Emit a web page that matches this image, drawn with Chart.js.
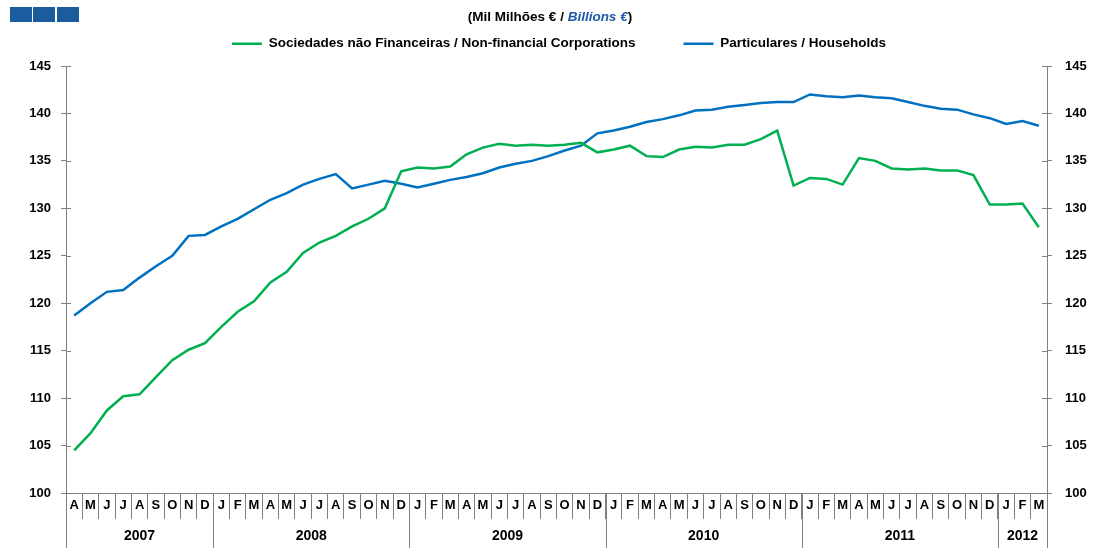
<!DOCTYPE html>
<html>
<head>
<meta charset="utf-8">
<script src="https://cdn.jsdelivr.net/npm/chart.js@4/dist/chart.umd.min.js"></script>
<style>
    html, body { margin: 0; padding: 0; background: #fff; }
    #grafico { display: block; }
</style>
</head>
<body>
<canvas id="grafico" width="1094" height="548"></canvas>
<script>
/*
* Dados (Abr 2007 - Mar 2012)
*/
const meses = ['A', 'M', 'J', 'J', 'A', 'S', 'O', 'N', 'D',
    'J', 'F', 'M', 'A', 'M', 'J', 'J', 'A', 'S', 'O', 'N', 'D',
    'J', 'F', 'M', 'A', 'M', 'J', 'J', 'A', 'S', 'O', 'N', 'D',
    'J', 'F', 'M', 'A', 'M', 'J', 'J', 'A', 'S', 'O', 'N', 'D',
    'J', 'F', 'M', 'A', 'M', 'J', 'J', 'A', 'S', 'O', 'N', 'D',
    'J', 'F', 'M']

const anos = ['2007', '2008', '2009', '2010', '2011', '2012']
const mesesPorAno = [9, 12, 12, 12, 12, 3]

const sociedades = [104.5, 106.3, 108.7, 110.2, 110.4, 112.2, 114.0, 115.1, 115.8,
    117.5, 119.1, 120.2, 122.2, 123.3, 125.3, 126.4, 127.1, 128.1, 128.9, 130.0, 133.9,
    134.3, 134.2, 134.4, 135.7, 136.4, 136.8, 136.6, 136.7, 136.6, 136.7, 136.9, 135.9,
    136.2, 136.6, 135.5, 135.4, 136.2, 136.5, 136.4, 136.7, 136.7, 137.3, 138.2, 132.4,
    133.2, 133.1, 132.5, 135.3, 135.0, 134.2, 134.1, 134.2, 134.0, 134.0, 133.5, 130.4,
    130.4, 130.5, 128.0]

const particulares = [118.7, 120.0, 121.2, 121.4, 122.7, 123.9, 125.0, 127.1, 127.2,
    128.1, 128.9, 129.9, 130.9, 131.6, 132.5, 133.1, 133.6, 132.1, 132.5, 132.9, 132.6,
    132.2, 132.6, 133.0, 133.3, 133.7, 134.3, 134.7, 135.0, 135.5, 136.1, 136.6, 137.9,
    138.2, 138.6, 139.1, 139.4, 139.8, 140.3, 140.4, 140.7, 140.9, 141.1, 141.2, 141.2,
    142.0, 141.8, 141.7, 141.9, 141.7, 141.6, 141.2, 140.8, 140.5, 140.4, 139.9, 139.5,
    138.9, 139.2, 138.7]

const corVerde = '#00b050'
const corAzul = '#0070c0'
const corEixo = '#808080'
const fonte = '"Liberation Sans", Arial, sans-serif'

Chart.defaults.font.family = fonte
Chart.defaults.color = '#000'

/*
* Plugin: logotipo, título, marcas dos eixos e linha dos anos
*/
const extrasGrafico = {
    id: 'extrasGrafico',
    beforeInit(chart) {
        const fitOriginal = chart.legend.fit
        chart.legend.fit = function () {
            fitOriginal.bind(chart.legend)()
            this.height = 77
        }
    },
    afterDraw(chart) {
        const ctx = chart.ctx
        const x = chart.scales.x
        const y = chart.scales.y
        const y2 = chart.scales.y2

        ctx.save()

        // quadrados azuis do canto
        ctx.fillStyle = '#1b5c9e'
        ;[10, 33, 57].forEach(px => ctx.fillRect(px, 7, 22, 15))

        // título com "Billions €" em itálico azul
        const partes = [
            { t: '(Mil Milhões € / ', f: 'bold 13.5px ' + fonte, c: '#000' },
            { t: 'Billions €', f: 'italic bold 13.5px ' + fonte, c: '#1f5aa6' },
            { t: ')', f: 'bold 13.5px ' + fonte, c: '#000' }
        ]
        let total = 0
        partes.forEach(p => { ctx.font = p.f; p.w = ctx.measureText(p.t).width; total += p.w })
        let px = 550 - total / 2
        ctx.textBaseline = 'middle'
        ctx.textAlign = 'left'
        partes.forEach(p => {
            ctx.font = p.f
            ctx.fillStyle = p.c
            ctx.fillText(p.t, px, 17)
            px += p.w
        })

        // marcas dos eixos y para dentro
        ctx.strokeStyle = corEixo
        ctx.lineWidth = 1
        y.ticks.forEach(t => {
            const py = Math.round(y.getPixelForValue(t.value)) + 0.5
            ctx.beginPath()
            ctx.moveTo(y.right, py)
            ctx.lineTo(y.right + 5, py)
            ctx.stroke()
        })
        y2.ticks.forEach(t => {
            const py = Math.round(y2.getPixelForValue(t.value)) + 0.5
            ctx.beginPath()
            ctx.moveTo(y2.left - 5, py)
            ctx.lineTo(y2.left, py)
            ctx.stroke()
        })

        // anos
        const meio = (x.getPixelForValue(1) - x.getPixelForValue(0)) / 2
        let inicio = 0
        ctx.font = 'bold 14px ' + fonte
        ctx.fillStyle = '#000'
        ctx.textAlign = 'center'
        anos.forEach((ano, i) => {
            const fim = inicio + mesesPorAno[i]
            const xa = x.getPixelForValue(inicio) - meio
            const xb = x.getPixelForValue(fim - 1) + meio
            ;[xa, xb].forEach(lx => {
                const xr = Math.round(lx) + 0.5
                ctx.beginPath()
                ctx.moveTo(xr, x.top)
                ctx.lineTo(xr, chart.height)
                ctx.stroke()
            })
            ctx.fillText(ano, (xa + xb) / 2, 536)
            inicio = fim
        })

        ctx.restore()
    }
}

const grafico = new Chart(document.getElementById('grafico'), {
    type: 'line',
    data: {
        labels: meses,
        datasets: [{
            label: 'Sociedades não Financeiras / Non-financial Corporations',
            data: sociedades,
            borderColor: corVerde,
            backgroundColor: corVerde,
            borderWidth: 2.5,
            pointRadius: 0,
            tension: 0
        }, {
            label: 'Particulares / Households',
            data: particulares,
            borderColor: corAzul,
            backgroundColor: corAzul,
            borderWidth: 2.5,
            pointRadius: 0,
            tension: 0
        }]
    },
    options: {
        responsive: false,
        animation: false,
        layout: {
            padding: { top: -11, left: 24, right: 0, bottom: 0 }
        },
        plugins: {
            legend: {
                display: true,
                labels: {
                    boxWidth: 30,
                    boxHeight: 0,
                    padding: 48,
                    font: { size: 13.5, weight: 'bold' },
                    color: '#000'
                }
            },
            tooltip: { enabled: false },
            title: { display: false }
        },
        scales: {
            x: {
                type: 'category',
                offset: true,
                grid: {
                    display: true,
                    offset: true,
                    drawOnChartArea: false,
                    tickLength: 26,
                    color: corEixo
                },
                border: { display: true, color: corEixo },
                ticks: {
                    autoSkip: false,
                    maxRotation: 0,
                    padding: -21,
                    font: { size: 13, weight: 'bold' },
                    color: '#000'
                },
                afterFit(scale) { scale.height = 55 }
            },
            y: {
                position: 'left',
                min: 100,
                max: 145,
                ticks: {
                    stepSize: 5,
                    padding: 10,
                    font: { size: 13, weight: 'bold' },
                    color: '#000'
                },
                grid: {
                    display: true,
                    drawOnChartArea: false,
                    tickLength: 5,
                    color: corEixo
                },
                border: { display: true, color: corEixo },
                afterFit(scale) { scale.width = 42 }
            },
            y2: {
                position: 'right',
                min: 100,
                max: 145,
                ticks: {
                    stepSize: 5,
                    padding: 13,
                    font: { size: 13, weight: 'bold' },
                    color: '#000'
                },
                grid: {
                    display: true,
                    drawOnChartArea: false,
                    tickLength: 5,
                    color: corEixo
                },
                border: { display: true, color: corEixo },
                afterFit(scale) { scale.width = 47 }
            }
        }
    },
    plugins: [extrasGrafico]
})
</script>
</body>
</html>
